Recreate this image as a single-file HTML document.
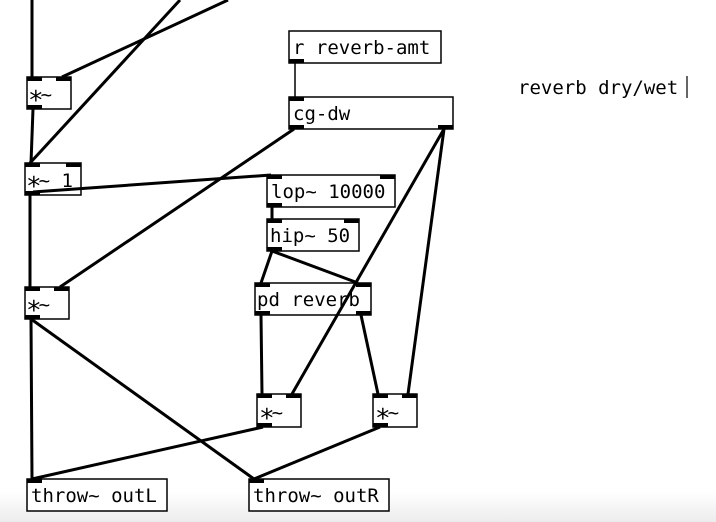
<!DOCTYPE html>
<html><head><meta charset="utf-8"><style>
html,body{margin:0;padding:0;background:#fff;}
svg{display:block}
text{font-family:"DejaVu Sans Mono","Liberation Mono",monospace;font-size:19px;fill:#000}
.a{font-size:26px}
</style></head><body>
<svg width="716" height="522" viewBox="0 0 716 522" xmlns="http://www.w3.org/2000/svg">
<defs><linearGradient id="g" x1="0" y1="0" x2="0" y2="1"><stop offset="0" stop-color="#fff"/><stop offset="1" stop-color="#ececec"/></linearGradient></defs>
<rect x="0" y="492" width="716" height="30" fill="url(#g)"/>
<g stroke="#000" stroke-width="1.5" fill="#fff">
<rect x="289" y="31" width="152" height="32"/>
<rect x="27" y="77" width="44" height="32"/>
<rect x="289" y="97" width="164" height="32"/>
<rect x="25" y="163" width="56" height="32"/>
<rect x="267" y="175" width="128" height="32"/>
<rect x="267" y="219" width="92" height="32"/>
<rect x="255" y="283" width="116" height="32"/>
<rect x="25" y="287" width="44" height="32"/>
<rect x="257" y="394" width="44" height="33"/>
<rect x="373" y="394" width="44" height="33"/>
<rect x="27" y="479" width="140" height="32"/>
<rect x="249" y="479" width="140" height="32"/>
</g>
<text x="293" y="54">r reverb-amt</text>
<text x="28" y="101"><tspan class="a" dy="8">*</tspan><tspan dx="-3" dy="-8">~</tspan></text>
<text x="293" y="120">cg-dw</text>
<text x="26" y="187"><tspan class="a" dy="8">*</tspan><tspan dx="-3" dy="-8">~ 1</tspan></text>
<text x="271" y="198">lop~ 10000</text>
<text x="270" y="242">hip~ 50</text>
<text x="257" y="306">pd reverb</text>
<text x="26" y="311"><tspan class="a" dy="8">*</tspan><tspan dx="-3" dy="-8">~</tspan></text>
<text x="259" y="419"><tspan class="a" dy="8">*</tspan><tspan dx="-3" dy="-8">~</tspan></text>
<text x="375" y="419"><tspan class="a" dy="8">*</tspan><tspan dx="-3" dy="-8">~</tspan></text>
<text x="31" y="502">throw~ outL</text>
<text x="253" y="502">throw~ outR</text>
<text x="518" y="94">reverb dry/wet</text>
<line x1="687" y1="76" x2="687" y2="98" stroke="#000" stroke-width="1.2"/>
<g stroke="#000" stroke-width="3" fill="none" stroke-linecap="butt">
<line x1="32" y1="0" x2="32" y2="77"/>
<line x1="228" y1="0" x2="62" y2="77"/>
<line x1="180" y1="0" x2="30" y2="163"/>
<line x1="33" y1="109" x2="31" y2="163"/>
<line x1="30" y1="195" x2="30" y2="287"/>
<line x1="33" y1="192" x2="271" y2="175"/>
<line x1="294" y1="129" x2="60" y2="287"/>
<line x1="444" y1="129" x2="292" y2="394"/>
<line x1="444" y1="129" x2="408" y2="394"/>
<line x1="272" y1="207" x2="272" y2="219"/>
<line x1="272" y1="251" x2="261" y2="283"/>
<line x1="272" y1="251" x2="358" y2="283"/>
<line x1="261" y1="315" x2="262" y2="394"/>
<line x1="361" y1="315" x2="378" y2="394"/>
<line x1="31" y1="319" x2="32" y2="479"/>
<line x1="31" y1="319" x2="254" y2="479"/>
<line x1="263" y1="427" x2="32" y2="479"/>
<line x1="380" y1="427" x2="254" y2="479"/>
</g>
<line x1="295" y1="63" x2="295" y2="97" stroke="#000" stroke-width="1.5"/>
<g fill="#000">
<rect x="289" y="59" width="15" height="4"/>
<rect x="27" y="77" width="15" height="4"/><rect x="56" y="77" width="15" height="4"/><rect x="27" y="105" width="15" height="4"/>
<rect x="289" y="97" width="15" height="4"/><rect x="289" y="125" width="15" height="4"/><rect x="438" y="125" width="15" height="4"/>
<rect x="25" y="163" width="15" height="4"/><rect x="66" y="163" width="15" height="4"/><rect x="25" y="191" width="15" height="4"/>
<rect x="267" y="175" width="15" height="4"/><rect x="380" y="175" width="15" height="4"/><rect x="267" y="203" width="15" height="4"/>
<rect x="267" y="219" width="15" height="4"/><rect x="344" y="219" width="15" height="4"/><rect x="267" y="247" width="15" height="4"/>
<rect x="255" y="283" width="15" height="4"/><rect x="356" y="283" width="15" height="4"/><rect x="255" y="311" width="15" height="4"/><rect x="356" y="311" width="15" height="4"/>
<rect x="25" y="287" width="15" height="4"/><rect x="54" y="287" width="15" height="4"/><rect x="25" y="315" width="15" height="4"/>
<rect x="257" y="394" width="15" height="4"/><rect x="286" y="394" width="15" height="4"/><rect x="257" y="423" width="15" height="4"/>
<rect x="373" y="394" width="15" height="4"/><rect x="402" y="394" width="15" height="4"/><rect x="373" y="423" width="15" height="4"/>
<rect x="27" y="479" width="15" height="4"/><rect x="249" y="479" width="15" height="4"/>
</g>
</svg>
</body></html>
